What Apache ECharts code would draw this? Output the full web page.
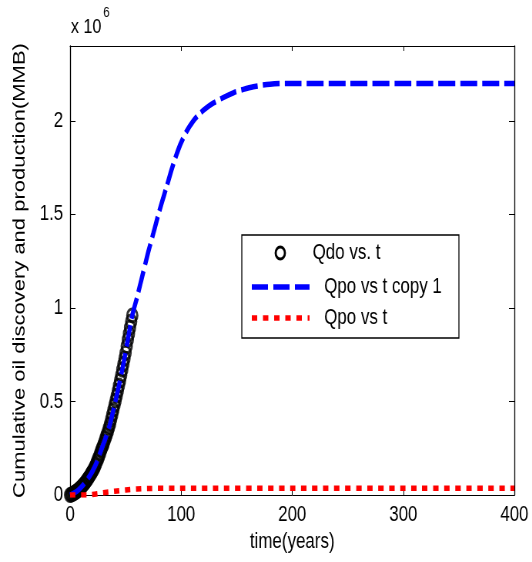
<!DOCTYPE html>
<html><head><meta charset="utf-8">
<script src="https://cdn.jsdelivr.net/npm/echarts@6/dist/echarts.min.js"></script>
<style>
html,body{margin:0;padding:0;background:#fff;width:532px;height:562px;overflow:hidden}
#wrap{width:532px;height:562px;overflow:hidden;position:relative}
#c{width:691px;height:562px;transform:scaleX(0.77);transform-origin:0 0;position:absolute;left:0;top:0}
</style>
</head><body><div id="wrap"><div id="c"></div></div>
<script>
// Qdo vs. t (circles), values in 10^6 MMB
const qdoT = [0,1,2,3,4,5,6,7,8,9,10,11,12,13,14,15,16,17,18,19,20,21,22,23,24,25,26,27,28,29,30,31,32,33,34,35,36,37,38,39,40,41,42,43,44,45,46,47,48,49,50,51,52,53,54,55,56];
const qdoV = [0,0.002,0.005,0.008,0.012,0.016,0.02,0.025,0.03,0.036,0.042,0.048,0.055,0.062,0.07,0.078,0.087,0.096,0.105,0.115,0.125,0.136,0.147,0.16,0.175,0.19,0.205,0.222,0.24,0.255,0.27,0.287,0.305,0.322,0.34,0.36,0.38,0.405,0.43,0.455,0.48,0.505,0.53,0.557,0.585,0.612,0.64,0.67,0.70,0.73,0.76,0.795,0.83,0.862,0.895,0.928,0.96];
// Qpo vs t copy 1 (blue dashed)
const qpo1T = [0,4,8,12,16,20,24,28,32,36,40,44,48,52,56,60,65,70,75,80,87,93,99,105,111,117,123,129,138,147,156,165,180,200,250,300,400];
const qpo1V = [0,0.012,0.03,0.055,0.087,0.125,0.175,0.24,0.305,0.38,0.48,0.585,0.70,0.83,0.96,1.05,1.17,1.29,1.4,1.51,1.65,1.77,1.87,1.945,2.0,2.04,2.07,2.095,2.125,2.15,2.168,2.182,2.196,2.2,2.2,2.2,2.2];
// Qpo vs t (red dotted)
const qpoT = [0,15,20,30,40,50,60,70,100,200,300,400];
const qpoV = [0,0,0.003,0.012,0.02,0.027,0.032,0.035,0.036,0.036,0.036,0.036];
const xTicks = [0,100,200,300,400];
const yTicks = [0,0.5,1,1.5,2];
const legendNames = ['Qdo vs. t','Qpo vs t copy 1','Qpo vs t'];

const zip = (a,b) => a.map((v,i)=>[v,b[i]]);
const font = 'Liberation Sans, Arial, sans-serif';
const chart = echarts.init(document.getElementById('c'), null, {renderer:'canvas'});
const tickX = {show:true, inside:true, length:5, lineStyle:{color:'#000',width:1}};
const tickY = {show:true, inside:true, length:7, lineStyle:{color:'#000',width:1}};
const txt = (t,x,y,size) => ({type:'text', x:x, y:y, z:100,
  style:{text:t, fontSize:size, fontFamily:font, fill:'#000', verticalAlign:'middle', align:'left'}});
chart.setOption({
  animation:false,
  backgroundColor:'#fff',
  grid:{left:91,right:23,top:46,bottom:67,show:false},
  xAxis:[{
    type:'value', min:0, max:400, interval:100,
    name:'time(years)', nameLocation:'middle', nameGap:34,
    nameTextStyle:{fontFamily:font,fontSize:22,color:'#000'},
    axisLine:{show:true,lineStyle:{color:'#000',width:1}},
    axisTick:tickX,
    axisLabel:{fontFamily:font,fontSize:22,color:'#000',margin:9,formatter:v=>xTicks.includes(v)?String(v):''},
    splitLine:{show:false}
  },{
    type:'value', position:'top', min:0, max:400, interval:100,
    axisLine:{show:true,onZero:false,lineStyle:{color:'#000',width:1}},
    axisTick:tickX, axisLabel:{show:false}, splitLine:{show:false}
  }],
  yAxis:[{
    type:'value', min:0, max:2.4, interval:0.5,
    name:'Cumulative oil discovery and production(MMB)', nameLocation:'middle', nameGap:54,
    nameTextStyle:{fontFamily:font,fontSize:22,color:'#000'},
    axisLine:{show:true,lineStyle:{color:'#000',width:1.3}},
    axisTick:tickY,
    axisLabel:{fontFamily:font,fontSize:22,color:'#000',margin:9,showMaxLabel:false,
      formatter:v=>yTicks.some(t=>Math.abs(t-v)<1e-9)?String(v):''},
    splitLine:{show:false}
  },{
    type:'value', position:'right', min:0, max:2.4, interval:0.5,
    axisLine:{show:true,onZero:false,lineStyle:{color:'#000',width:1.3}},
    axisTick:tickY, axisLabel:{show:false}, splitLine:{show:false}
  }],
  graphic:[
    txt('x 10',92,27,21),
    txt('6',134,13,15),
    {type:'rect', z:99, shape:{x:314,y:235,width:282,height:103}, style:{fill:'#fff',stroke:'#000',lineWidth:1.3}},
    {type:'circle', z:100, shape:{cx:364,cy:253,r:6}, style:{fill:'none',stroke:'#000',lineWidth:2.8}},
    txt(legendNames[0],406,253,22),
    {type:'line', z:100, shape:{x1:327,y1:287,x2:402,y2:287}, style:{stroke:'#0000ff',lineWidth:5.5,lineDash:[21,7],lineCap:'butt'}},
    txt(legendNames[1],421,287,22),
    {type:'line', z:100, shape:{x1:327,y1:318,x2:402,y2:318}, style:{stroke:'#ff0000',lineWidth:5.5,lineDash:[7,7.5],lineCap:'butt'}},
    txt(legendNames[2],421,318,22)
  ],
  series:[
    {name:legendNames[0], type:'scatter', data:zip(qdoT,qdoV), symbol:'circle', symbolSize:13, clip:false,
     itemStyle:{color:'rgba(0,0,0,0)',borderColor:'#000',borderWidth:3}, z:2},
    {name:legendNames[1], type:'line', data:zip(qpo1T,qpo1V), smooth:0.3, showSymbol:false, symbol:'none',
     lineStyle:{color:'#0000ff',width:5.5,type:[22,6.5],cap:'butt'}, z:3},
    {name:legendNames[2], type:'line', data:zip(qpoT,qpoV), smooth:0.3, showSymbol:false, symbol:'none',
     lineStyle:{color:'#ff0000',width:5.5,type:[7,7.3],cap:'butt'}, z:4}
  ]
});
</script></body></html>
